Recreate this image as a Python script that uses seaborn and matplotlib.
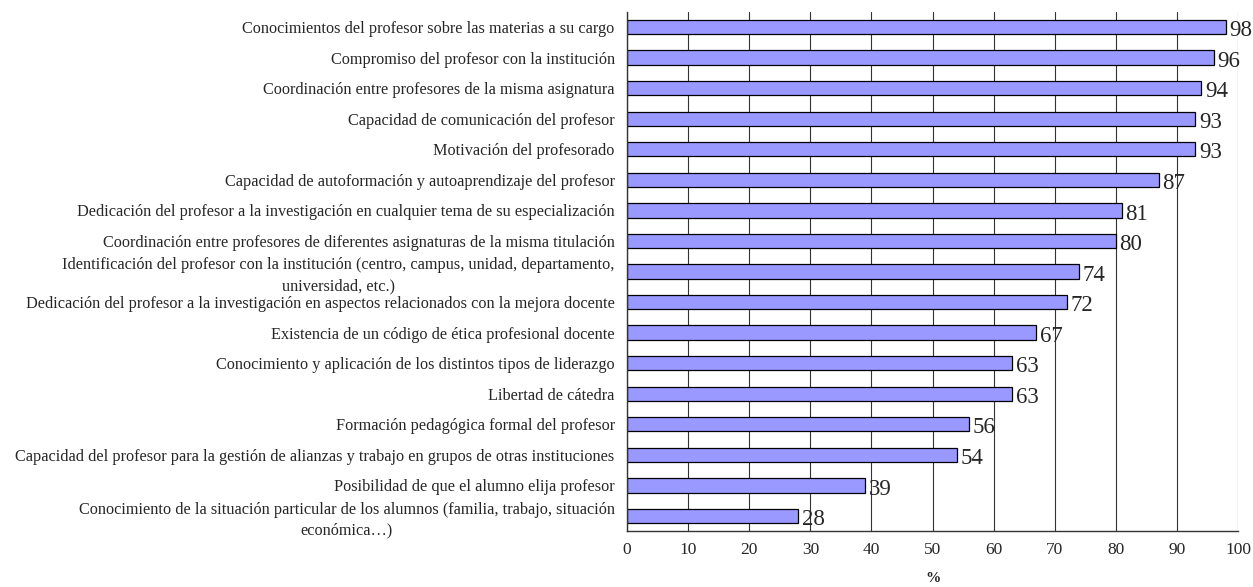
import numpy as np
import pandas as pd
import matplotlib.pyplot as plt
import seaborn as sns

# Data
factores = [
    "Conocimientos del profesor sobre las materias a su cargo",
    "Compromiso del profesor con la institución",
    "Coordinación entre profesores de la misma asignatura",
    "Capacidad de comunicación del profesor",
    "Motivación del profesorado",
    "Capacidad de autoformación y autoaprendizaje del profesor",
    "Dedicación del profesor a la investigación en cualquier tema de su especialización",
    "Coordinación entre profesores de diferentes asignaturas de la misma titulación",
    "Identificación del profesor con la institución (centro, campus, unidad, departamento,\nuniversidad, etc.)",
    "Dedicación del profesor a la investigación en aspectos relacionados con la mejora docente",
    "Existencia de un código de ética profesional docente",
    "Conocimiento y aplicación de los distintos tipos de liderazgo",
    "Libertad de cátedra",
    "Formación pedagógica formal del profesor",
    "Capacidad del profesor para la gestión de alianzas y trabajo en grupos de otras instituciones",
    "Posibilidad de que el alumno elija profesor",
    "Conocimiento de la situación particular de los alumnos (familia, trabajo, situación\neconómica…)",
]
porcentajes = [98, 96, 94, 93, 93, 87, 81, 80, 74, 72, 67, 63, 63, 56, 54, 39, 28]

df = pd.DataFrame({"factor": factores, "pct": porcentajes})

sns.set_style("white")
plt.rcParams["font.family"] = ["Liberation Serif", "DejaVu Serif"]

fig, ax = plt.subplots(figsize=(12.53, 5.87), dpi=100)
fig.subplots_adjust(left=0.5005, right=0.988, top=0.98, bottom=0.095)

sns.barplot(data=df, x="pct", y="factor", orient="h", color="#9999FF",
            edgecolor="black", linewidth=0.9, width=0.47, saturation=1, ax=ax)

n = len(factores)
ax.set_xlim(0, 100)
ax.set_ylim(n - 0.5, -0.5)
ax.set_xticks(np.arange(0, 101, 10))
ax.xaxis.grid(True, color="#333333", linewidth=0.8)
ax.set_axisbelow(True)

# value labels
for i, v in enumerate(porcentajes):
    ax.text(v + 0.6, i + 0.12, str(v), va="center", ha="left", fontsize=16.5)

# y ticks: labels at centres, tick marks at boundaries
ax.set_yticks(np.arange(n))
ax.set_yticklabels(factores, fontsize=11.7, multialignment="center", linespacing=1.4)
ax.set_yticks(np.arange(n + 1) - 0.5, minor=True)
ax.tick_params(axis="y", which="major", length=0, pad=9)
ax.tick_params(axis="y", which="minor", length=5, width=0.8, color="#333333", direction="out")
ax.tick_params(axis="x", length=5, width=0.8, color="#333333", direction="out", labelsize=12.5, pad=3)

ax.set_ylabel("")
ax.set_xlabel("%", fontsize=11, fontweight="bold", labelpad=10)

for s in ["top", "right"]:
    ax.spines[s].set_visible(False)
for s in ["left", "bottom"]:
    ax.spines[s].set_color("#333333")
    ax.spines[s].set_linewidth(1.0)

fig.savefig("out.png", dpi=100)
